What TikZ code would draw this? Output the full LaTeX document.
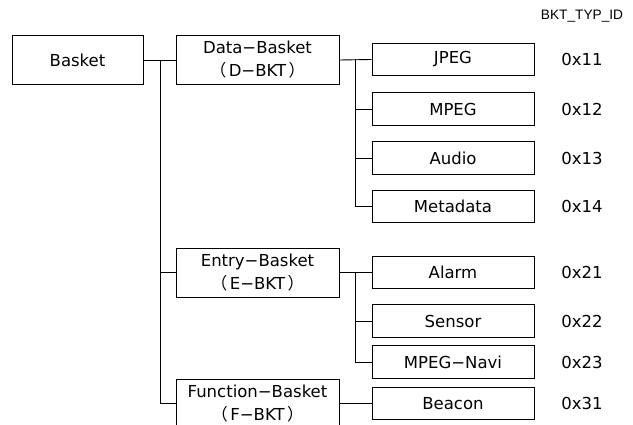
\documentclass[tikz,border=0pt]{standalone}
\usepackage{fontspec}
\setmainfont{DejaVu Sans}
\newfontfamily\cjkfont{Noto Sans CJK JP}
\newfontfamily\hdrfont{Liberation Sans}
\newcommand{\lp}{{\cjkfont （}\kern2.5pt}
\newcommand{\rp}{\kern2.5pt{\cjkfont ）}}
\begin{document}
\begin{tikzpicture}[x=1pt,y=-1pt,
  every node/.style={font=\fontsize{16.5}{23}\selectfont},
  lbox/.style={draw=black,line width=0.9pt,inner sep=0pt,minimum width=163pt,minimum height=49pt,align=center},
  leaf/.style={draw=black,line width=0.9pt,inner sep=0pt,minimum width=162pt,minimum height=32.5pt},
  idlabel/.style={inner sep=0pt},
  conn/.style={draw=black,line width=0.9pt}]
\useasboundingbox (0,0) rectangle (633,425);
\clip (0,0) rectangle (633,425);
\node[lbox,minimum width=131pt] (basket) at (77.5,60) {Basket};
\node[lbox] (dbkt) at (257.5,60) {Data−Basket\\\lp D−BKT\rp};
\node[lbox] (ebkt) at (257.5,272.5) {Entry−Basket\\\lp E−BKT\rp};
\node[lbox] (fbkt) at (257.5,403.5) {Function−Basket\\\lp F−BKT\rp};
\node[leaf] (jpeg) at (453,59.5) {JPEG};
\node[leaf] (mpeg) at (453,109) {MPEG};
\node[leaf] (audio) at (453,158) {Audio};
\node[leaf] (meta) at (453,206.5) {Metadata};
\node[leaf] (alarm) at (453,272.5) {Alarm};
\node[leaf] (sensor) at (453,321) {Sensor};
\node[leaf] (navi) at (453,362) {MPEG−Navi};
\node[leaf] (beacon) at (453,403.5) {Beacon};
\node[idlabel,font=\hdrfont\fontsize{13.7}{16}\selectfont] (hdr) at (582,16.5) {BKT\_TYP\_ID};
\node[idlabel] (i11) at (582,59.5) {0x11};
\node[idlabel] (i12) at (582,109) {0x12};
\node[idlabel] (i13) at (582,158) {0x13};
\node[idlabel] (i14) at (582,206.5) {0x14};
\node[idlabel] (i21) at (582,272.5) {0x21};
\node[idlabel] (i22) at (582,321) {0x22};
\node[idlabel] (i23) at (582,362) {0x23};
\node[idlabel] (i31) at (582,403.5) {0x31};
\coordinate (t0) at (160,60);
\coordinate (d0) at (355,59.5);
\coordinate (e0) at (355,272.5);
\path[conn] (basket.east) -- (dbkt.west);
\path[conn] (t0) |- (ebkt.west);
\path[conn] (t0) |- (fbkt.west);
\path[conn] (dbkt.east) -- (jpeg.west);
\path[conn] (d0) |- (mpeg.west);
\path[conn] (d0) |- (audio.west);
\path[conn] (d0) |- (meta.west);
\path[conn] (ebkt.east) -- (alarm.west);
\path[conn] (e0) |- (sensor.west);
\path[conn] (e0) |- (navi.west);
\path[conn] (fbkt.east) -- (beacon.west);
\end{tikzpicture}
\end{document}
